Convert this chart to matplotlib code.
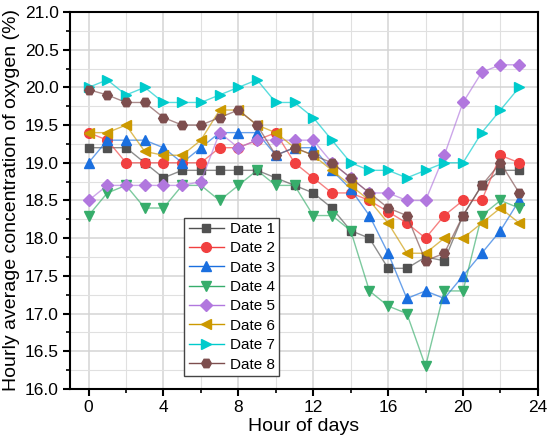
import matplotlib
matplotlib.use("Agg")
import matplotlib.pyplot as plt
from matplotlib.lines import Line2D
from matplotlib.ticker import MultipleLocator

plt.rcParams['font.family'] = ['Liberation Sans', 'DejaVu Sans']

hours = list(range(24))

date1 = [19.2, 19.2, 19.2, 19.0, 18.8, 18.9, 18.9, 18.9, 18.9, 18.9, 18.8, 18.7,
         18.6, 18.4, 18.1, 18.0, 17.6, 17.6, 17.75, 17.7, 18.3, 18.7, 18.9, 18.9]
date2 = [19.4, 19.3, 19.0, 19.0, 19.0, 19.0, 19.0, 19.2, 19.2, 19.3, 19.4, 19.0,
         18.8, 18.6, 18.6, 18.5, 18.35, 18.2, 18.0, 18.3, 18.5, 18.5, 19.1, 19.0]
date3 = [19.0, 19.3, 19.3, 19.3, 19.2, 19.0, 19.2, 19.4, 19.4, 19.4, 19.1, 19.2,
         19.2, 18.9, 18.65, 18.3, 17.8, 17.2, 17.3, 17.2, 17.5, 17.8, 18.1, 18.5]
date4 = [18.3, 18.6, 18.7, 18.4, 18.4, 18.7, 18.7, 18.5, 18.7, 18.9, 18.7, 18.7,
         18.3, 18.3, 18.1, 17.3, 17.1, 17.0, 16.3, 17.3, 17.3, 18.3, 18.5, 18.4]
date5 = [18.5, 18.7, 18.7, 18.7, 18.7, 18.7, 18.75, 19.4, 19.2, 19.3, 19.3, 19.3,
         19.3, 19.0, 18.8, 18.6, 18.6, 18.5, 18.5, 19.1, 19.8, 20.2, 20.3, 20.3]
date6 = [19.4, 19.4, 19.5, 19.15, 19.1, 19.1, 19.3, 19.7, 19.7, 19.5, 19.4, 19.2,
         19.1, 18.9, 18.7, 18.5, 18.2, 17.8, 17.8, 18.0, 18.0, 18.2, 18.4, 18.2]
date7 = [20.0, 20.1, 19.9, 20.0, 19.8, 19.8, 19.8, 19.9, 20.0, 20.1, 19.8, 19.8,
         19.6, 19.3, 19.0, 18.9, 18.9, 18.8, 18.9, 19.0, 19.0, 19.4, 19.7, 20.0]
date8 = [19.97, 19.9, 19.8, 19.8, 19.6, 19.5, 19.5, 19.6, 19.7, 19.5, 19.1, 19.2,
         19.1, 19.0, 18.8, 18.6, 18.4, 18.3, 17.7, 17.8, 18.3, 18.7, 19.0, 18.6]

labels = ['Date 1', 'Date 2', 'Date 3', 'Date 4', 'Date 5', 'Date 6', 'Date 7', 'Date 8']
colors = ['#515151', '#F14040', '#1A6FDF', '#37AD6B', '#B177DE', '#CC9900', '#00CBCC', '#7D4E4E']
markers = ['s', 'o', '^', 'v', 'D', '<', '>', 'H']
sizes = [6.2, 7, 7.5, 7.5, 5.8, 7.5, 7.5, 7]

series = [date1, date2, date3, date4, date5, date6, date7, date8]

fig = plt.figure(figsize=(5.5, 4.45), dpi=100)
ax = fig.add_axes([0.127, 0.126, 0.851, 0.847])

for y, lab, c, m, s in zip(series, labels, colors, markers, sizes):
    # faint connecting line, solid markers on top
    ax.plot(hours, y, color=c, lw=1.0, alpha=0.65)
    ax.plot(hours, y, ls='none', marker=m, ms=s, color=c, mec=c)

handles = [Line2D([], [], color=c, lw=1.0, marker=m, ms=s, mfc=c, mec=c)
           for c, m, s in zip(colors, markers, sizes)]
leg = ax.legend(handles, labels, loc='lower left', bbox_to_anchor=(0.244, 0.034),
                borderaxespad=0, fontsize=11, frameon=True, fancybox=False,
                edgecolor='#444444', framealpha=1, handlelength=2.3,
                labelspacing=0.35, borderpad=0.3, handletextpad=0.4, numpoints=1)
leg.get_frame().set_linewidth(1.0)

ax.set_xlim(-1, 24)
ax.set_ylim(16.0, 21.0)
ax.xaxis.set_major_locator(MultipleLocator(4))
ax.xaxis.set_minor_locator(MultipleLocator(2))
ax.yaxis.set_major_locator(MultipleLocator(0.5))
ax.yaxis.set_minor_locator(MultipleLocator(0.25))
ax.yaxis.set_major_formatter('{x:.1f}')

ax.grid(which='major', color='#d4d4d4', lw=1.1)
ax.grid(which='minor', color='#e0e0e0', lw=0.8)
ax.set_axisbelow(True)

ax.tick_params(which='major', direction='out', length=5, width=1.5, labelsize=12.5,
               top=False, right=False, pad=3)
ax.tick_params(which='minor', direction='out', length=3, width=1.2, top=False, right=False)
for sp in ax.spines.values():
    sp.set_linewidth(1.5)

ax.set_xlabel('Hour of days', fontsize=14, labelpad=2)
ax.set_ylabel('Hourly average concentration of oxygen (%)', fontsize=14, labelpad=3)

fig.savefig('out.png', dpi=100)
